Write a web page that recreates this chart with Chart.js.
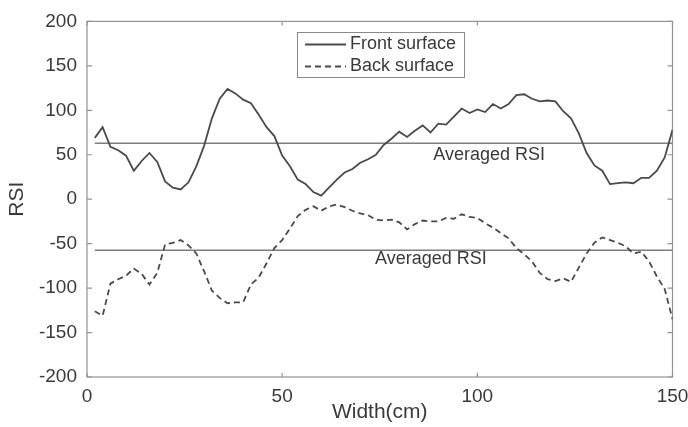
<!DOCTYPE html>
<html>
<head>
<meta charset="utf-8">
<script src="https://cdn.jsdelivr.net/npm/chart.js@4.4.1/dist/chart.umd.min.js"></script>
<style>
  html, body { margin: 0; padding: 0; background: #fff; }
  #wrap { width: 688px; height: 427px; }
</style>
</head>
<body>
<div id="wrap"><canvas id="rsiChart" width="688" height="427"></canvas></div>
<script>
// values, RSI across the panel width
const widths = [2, 4, 6, 8, 10, 12, 14, 16, 18, 20, 22, 24, 26, 28, 30, 32, 34, 36, 38, 40, 42, 44, 46, 48, 50,
  52, 54, 56, 58, 60, 62, 64, 66, 68, 70, 72, 74, 76, 78, 80, 82, 84, 86, 88, 90, 92, 94, 96, 98, 100,
  102, 104, 106, 108, 110, 112, 114, 116, 118, 120, 122, 124, 126, 128, 130, 132, 134, 136, 138, 140, 142, 144, 146, 148, 150];
const frontRSI = [69, 81, 59, 55, 49, 32, 43, 52, 42, 20, 13, 11, 19, 37, 60, 91, 113, 124, 119, 112, 108, 95, 81, 71, 49,
  37, 22, 17, 8, 4, 13, 22, 30, 34, 41, 45, 50, 61, 68, 76, 70, 77, 83, 75, 85, 84, 93, 102, 97, 101,
  98, 107, 102, 107, 117, 118, 113, 110, 111, 110, 99, 91, 74, 52, 38, 32, 17, 18, 19, 18, 24, 24, 32, 47, 78];
const backRSI = [-126, -131, -95, -90, -86, -78, -84, -96, -83, -51, -49, -46, -52, -61, -81, -103, -111, -117, -116, -116, -96, -88, -72, -55, -46,
  -33, -19, -12, -8, -13, -8, -6, -9, -13, -16, -18, -23, -24, -23, -26, -34, -28, -24, -25, -25, -21, -22, -17, -20, -21,
  -27, -32, -38, -44, -55, -62, -70, -83, -90, -92, -89, -93, -77, -61, -49, -43, -46, -49, -53, -61, -59, -70, -87, -101, -135];
const frontAvg = 63;
const backAvg = -57.5;
const xTicks = [0, 50, 100, 150];
const yTicks = [-200, -150, -100, -50, 0, 50, 100, 150, 200];

const FONT = '"Liberation Sans", Arial, sans-serif';
const TEXT = '#3a3a3a';
const LINE = '#4a4a4a';

function pts(xs, ys) {
  return xs.map((x, i) => ({ x: x, y: ys[i] }));
}
function flat(v) {
  return [{ x: widths[0], y: v }, { x: widths[widths.length - 1], y: v }];
}

// box, inward tick marks, legend and the two "Averaged RSI" notes
const framePlugin = {
  id: 'frame',
  beforeDatasetsDraw(chart) {
    const { ctx, chartArea: a, scales: { x, y } } = chart;
    ctx.save();
    ctx.strokeStyle = '#939393';
    ctx.lineWidth = 1.2;
    ctx.strokeRect(a.left, a.top, a.right - a.left, a.bottom - a.top);
    ctx.beginPath();
    xTicks.forEach(v => {
      const px = x.getPixelForValue(v);
      ctx.moveTo(px, a.bottom); ctx.lineTo(px, a.bottom - 4);
      ctx.moveTo(px, a.top); ctx.lineTo(px, a.top + 4);
    });
    yTicks.forEach(v => {
      const py = y.getPixelForValue(v);
      ctx.moveTo(a.left, py); ctx.lineTo(a.left + 5, py);
      ctx.moveTo(a.right, py); ctx.lineTo(a.right - 5, py);
    });
    ctx.stroke();
    ctx.restore();
  },
  afterDraw(chart) {
    const { ctx, scales: { x, y } } = chart;
    ctx.save();
    ctx.font = '18px ' + FONT;
    ctx.fillStyle = TEXT;
    ctx.textBaseline = 'middle';
    ctx.textAlign = 'left';
    ctx.fillText('Averaged RSI', x.getPixelForValue(88.7), y.getPixelForValue(50));
    ctx.fillText('Averaged RSI', x.getPixelForValue(73.8), y.getPixelForValue(-67.8));

    // legend
    const bx = 297, by = 32, bw = 167, bh = 45;
    ctx.fillStyle = '#fff';
    ctx.fillRect(bx, by, bw, bh);
    ctx.strokeStyle = '#8a8a8a';
    ctx.lineWidth = 1;
    ctx.strokeRect(bx + 0.5, by + 0.5, bw, bh);
    chart.data.datasets.slice(0, 2).forEach((ds, i) => {
      const ly = by + 12.5 + i * 22;
      ctx.strokeStyle = ds.borderColor;
      ctx.lineWidth = ds.borderWidth;
      ctx.setLineDash(ds.borderDash || []);
      ctx.beginPath();
      ctx.moveTo(305, ly);
      ctx.lineTo(346, ly);
      ctx.stroke();
      ctx.setLineDash([]);
      ctx.fillStyle = TEXT;
      ctx.fillText(ds.label, 350, ly);
    });
    ctx.restore();
  }
};

const ctx = document.getElementById('rsiChart').getContext('2d');
const rsiChart = new Chart(ctx, {
  type: 'line',
  data: {
    datasets: [
      { label: 'Front surface', data: pts(widths, frontRSI), borderColor: LINE, borderWidth: 1.8, pointRadius: 0, tension: 0 },
      { label: 'Back surface', data: pts(widths, backRSI), borderColor: LINE, borderWidth: 1.8, borderDash: [6, 4], pointRadius: 0, tension: 0 },
      { label: 'front avg', data: flat(frontAvg), borderColor: '#7d7d7d', borderWidth: 1.5, pointRadius: 0 },
      { label: 'back avg', data: flat(backAvg), borderColor: '#7d7d7d', borderWidth: 1.5, pointRadius: 0 }
    ]
  },
  options: {
    responsive: false,
    animation: false,
    devicePixelRatio: 1,
    layout: { padding: { left: 0, right: 15.5, top: 17, bottom: 0 } },
    plugins: {
      legend: { display: false },
      tooltip: { enabled: false }
    },
    scales: {
      x: {
        type: 'linear',
        min: 0,
        max: 150,
        afterBuildTicks: s => { s.ticks = xTicks.map(v => ({ value: v })); },
        afterFit: s => { s.height = 50; s.paddingLeft = 0; s.paddingRight = 0; },
        grid: { display: false, drawTicks: false },
        border: { display: false },
        ticks: { padding: 8, maxRotation: 0, color: TEXT, font: { family: FONT, size: 19 } },
        title: { display: true, text: 'Width(cm)', color: TEXT, font: { family: FONT, size: 21 }, padding: { top: 0, bottom: 2 } }
      },
      y: {
        min: -200,
        max: 200,
        afterBuildTicks: s => { s.ticks = yTicks.map(v => ({ value: v })); },
        afterFit: s => { s.width = 87; },
        grid: { display: false, drawTicks: false },
        border: { display: false },
        ticks: { padding: 10, color: TEXT, font: { family: FONT, size: 19 } },
        title: { display: true, text: 'RSI', color: TEXT, font: { family: FONT, size: 21 }, padding: { top: 5, bottom: 0 } }
      }
    }
  },
  plugins: [framePlugin]
});
</script>
</body>
</html>
